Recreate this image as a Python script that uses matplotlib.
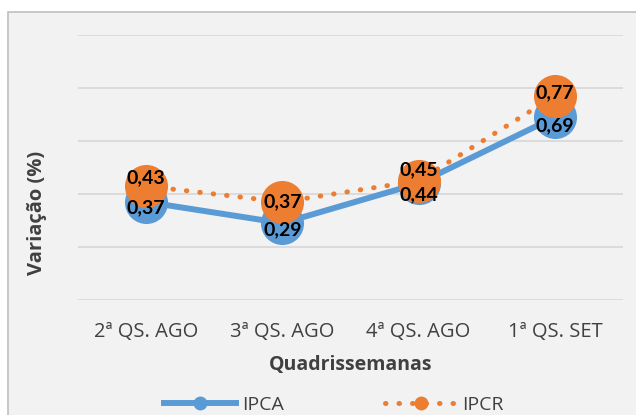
import matplotlib.pyplot as plt
from matplotlib.patches import Rectangle
from matplotlib.lines import Line2D

plt.rcParams['font.family'] = ['Open Sans', 'DejaVu Sans']

categories = ['2ª QS. AGO', '3ª QS. AGO', '4ª QS. AGO', '1ª QS. SET']
ipca = [0.37, 0.29, 0.44, 0.69]
ipcr = [0.43, 0.37, 0.45, 0.77]

# vertical nudges of the data labels (points), as placed in the original
ipca_label_dy = [-4, -5, -8, -6]
ipcr_label_dy = [6, 0, 8, 2]

blue = '#5b9bd5'
orange = '#ed7d31'

fig = plt.figure(figsize=(6.36, 4.15), dpi=100)
fig.patch.set_facecolor('white')

# chart frame (cut off on the right and bottom like the original)
frame = Rectangle((8 / 636, -0.05), 1.0, (415 - 12) / 415 + 0.05,
                  transform=fig.transFigure, facecolor='#f2f2f2',
                  edgecolor='#bfbfbf', linewidth=1.2, zorder=-1)
fig.patches.append(frame)

ax = fig.add_axes([78 / 636, (415 - 300) / 415, 545 / 636, 265 / 415])
ax.set_facecolor('none')
ax.set_zorder(2)

x = range(len(categories))
ax.plot(x, ipca, color=blue, linewidth=4.3, marker='o', markersize=31,
        markeredgewidth=0, zorder=3, solid_capstyle='round')
ax.plot(x, ipcr, color=orange, linewidth=3.6, linestyle=(0, (0.1, 2.6)),
        dash_capstyle='round', marker='o', markersize=31,
        markeredgewidth=0, zorder=4)

for i, v in enumerate(ipca):
    ax.annotate(f'{v:.2f}'.replace('.', ','), (i, v),
                xytext=(0, ipca_label_dy[i]), textcoords='offset points',
                ha='center', va='center', fontsize=14, fontweight='bold',
                family=['Lato', 'DejaVu Sans'], color='black', zorder=6)
for i, v in enumerate(ipcr):
    ax.annotate(f'{v:.2f}'.replace('.', ','), (i, v),
                xytext=(0, ipcr_label_dy[i]), textcoords='offset points',
                ha='center', va='center', fontsize=14, fontweight='bold',
                family=['Lato', 'DejaVu Sans'], color='black', zorder=7)

ax.set_xlim(-0.5, 3.5)
ax.set_ylim(0, 1.0)
ax.set_yticks([0, 0.2, 0.4, 0.6, 0.8, 1.0])
ax.set_yticklabels([])
ax.yaxis.grid(True, color='#d9d9d9', linewidth=1.3)
ax.set_axisbelow(True)
ax.tick_params(axis='both', length=0)
ax.tick_params(axis='x', pad=16, labelsize=14.5, labelcolor='#404040')
ax.set_xticks(list(x))
ax.set_xticklabels(categories)
for s in ax.spines.values():
    s.set_visible(False)

ax.set_xlabel('Quadrissemanas', fontsize=14, fontweight='bold',
              color='#404040', labelpad=9)
ax.set_ylabel('Variação (%)', fontsize=14.5, fontweight='bold',
              color='#404040')
ax.yaxis.set_label_coords(-0.056, 0.33)

handles = [
    Line2D([], [], color=blue, linewidth=4.3, marker='o', markersize=10,
           markeredgewidth=0),
    Line2D([], [], color=orange, linewidth=3.6, linestyle=(0, (0.1, 2.6)),
           dash_capstyle='round', marker='o', markersize=10,
           markeredgewidth=0),
]
fig.legend(handles, ['IPCA', 'IPCR'], loc='center',
           bbox_to_anchor=(0.525, (415 - 405) / 415), ncol=2, frameon=False,
           fontsize=14, handlelength=3.7, columnspacing=5.2,
           handletextpad=0.3, labelcolor='#404040')

fig.savefig('out.png', dpi=100)
